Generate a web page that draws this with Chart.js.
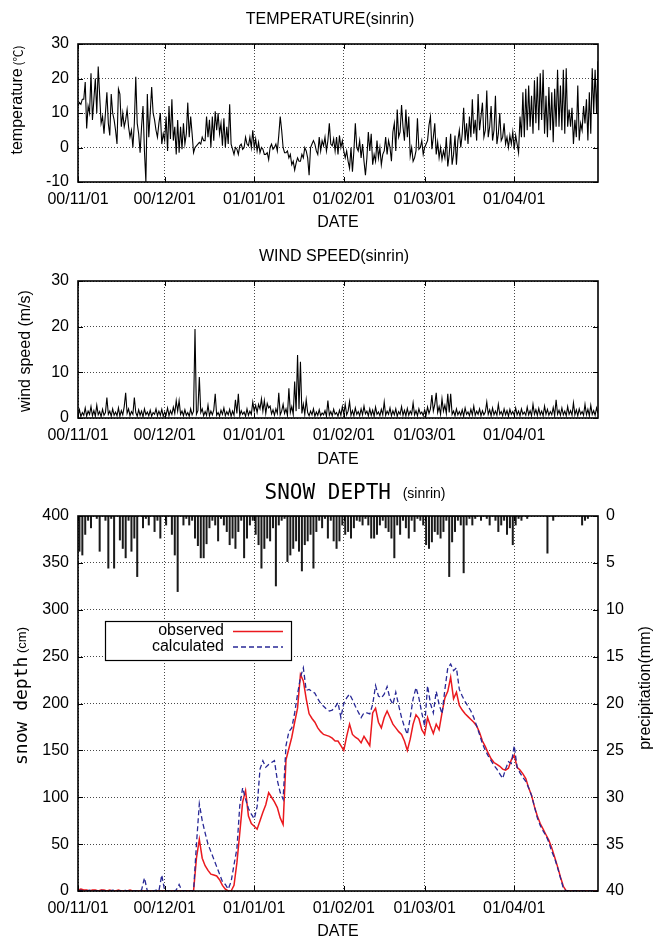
<!DOCTYPE html>
<html><head><meta charset="utf-8">
<script src="https://cdn.jsdelivr.net/npm/chart.js@4.4.1/dist/chart.umd.min.js"></script>
<style>
html,body{margin:0;padding:0;background:#fff;overflow:hidden;width:663px;height:937px;}
.box{position:absolute;left:0;width:663px;}
</style></head><body>
<div class="box" style="top:0;height:240px"><canvas id="c1"></canvas></div>
<div class="box" style="top:240px;height:236px"><canvas id="c2"></canvas></div>
<div class="box" style="top:476px;height:473px"><canvas id="c3"></canvas></div>
<script>
// ---- categories / tick labels (day offsets from 2000-11-01) ----
const monthDays = [0, 30, 61, 92, 120, 151];
const monthLabels = ['00/11/01', '00/12/01', '01/01/01', '01/02/01', '01/03/01', '01/04/01'];
const tempTicks = [-10, 0, 10, 20, 30];
const windTicks = [0, 10, 20, 30];
const snowTicks = [0, 50, 100, 150, 200, 250, 300, 350, 400];
const precipTicks = [0, 5, 10, 15, 20, 25, 30, 35, 40];

// ---- temperature, every 12 h (deg C) ----
const temperature = [
 12,13,12.5,14,14,19,5.5,12,10,21.5,
 8,14,20,10,23.5,15,7,9,4,10,
 16,7,3.5,15.5,10,8,5,1,17,15.5,
 6,10,6,8,11,6,3,5,0,7,
 20.5,7,4,-1.5,6,12,-1,-10,15.5,3,
 10,17.5,10,8,5,3,7,10,1,4,
 2,9,-1,12,2.5,14,2,6,-2,8,
 -1.5,6,-0.5,7,1,4,13,3,9,4,
 -1.5,0,0.5,1,1.5,1,3,2,2,9,
 3,8,0,9,2,10.5,5,10,4,7,
 0.5,8.5,0,6,1,12.5,1,-0.5,-2,0,
 -0.5,-2,0.5,1,-0.5,0,3,1,0.5,3,
 0,5,0,2.5,-1,1.5,-1.5,0,-0.5,-2,
 -2,-1.5,-3.5,0,1,-0.5,0,1,-1,3.5,
 9,5,0,-1.5,-1.5,-1,-3,-2,-5,-4,
 -6.5,-4.5,-3,-4,-4,-2,-3,0,-1,-3,
 -8,0,1,2,1,-1,-2,3,-1,2,
 0.5,3,-1,2,7,1,0.5,2.5,-1,3,
 -2,3.5,0,2,-1,-3,-1,-4,-6,0,
 -7,-1,7,0,-1,2,-3,1,-4,-8,
 -3,4.5,-1,4,-5,-2,-4,2,-3,0,
 -5,-2,-1,3,-2,2,0,-4,4.5,7,
 -1,11,3,4.5,12.3,6,2,11,3,9,
 -2.5,0,-4,-3,-1,8.5,-0.5,0,2,-2,
 0,1,2,6.5,9,-0.5,3,7,-2,1.5,
 -3,0,-3.5,-1,-3,3,-5.5,-2,4,-5,
 -2,3.5,-5,2,5,0,4,11.5,2,7,
 1,9,3,14,4,8,2,15.5,5,9,
 13,3,5,16.5,3,6,12,2,5,15,
 1,4,10,2,3,7,1,3,0,3.5,
 1,4.5,-0.5,3.5,1,-1.5,9,3,16,3,
 17,5,18,6,15,4,19.5,7,20.5,5,
 21.5,8,22.5,4,15,3,17.5,5,16,1.5,
 17,6,22.5,6,18,5,22.5,4,23,6,
 11,6,11.5,1,8,3,18,2,7,5,
 12,7,14,2,16,4,23,10,22.5,10,
 25
];

// ---- wind speed, every 12 h (m/s) ----
const windSpeed = [
 0.5,1.8,0.3,1.2,0.6,2.2,0.4,1.5,0.8,2.5,
 0.5,1.6,0.4,2.8,0.7,1.4,0.3,1.9,0.6,1.2,
 4.5,0.8,1.5,0.4,2.0,0.6,1.3,0.5,2.2,0.4,
 1.6,0.7,2.5,5.5,1.0,2.0,0.5,1.4,0.8,4.5,
 1.2,0.4,1.8,0.6,1.5,0.3,2.0,0.7,1.3,0.5,
 1.7,0.4,1.2,0.8,2.0,0.5,1.5,0.6,1.9,0.4,
 1.3,0.7,2.2,0.5,1.6,0.8,2.4,1.0,3.8,1.5,
 3.8,0.8,1.5,0.5,1.8,0.6,1.2,0.4,2.0,0.7,
 1.5,19.5,0.8,1.6,9.0,1.2,2.0,0.5,1.4,0.6,
 2.8,0.5,1.5,0.7,1.8,5.3,0.6,1.2,0.4,1.7,
 0.8,2.2,0.5,1.4,0.7,1.9,0.4,1.5,0.6,4.0,
 1.0,5.3,0.5,1.6,0.8,1.3,0.4,2.0,0.6,1.5,
 0.8,3.5,1.5,2.8,1.2,3.0,2.0,4.2,1.5,3.8,
 1.0,3.2,2.2,2.6,0.9,1.8,0.6,2.0,1.0,5.5,
 0.7,1.5,3.0,1.0,2.0,0.6,6.5,1.2,2.5,0.8,
 8.0,1.5,13.8,2.0,12.3,1.0,3.0,0.8,4.0,1.2,
 0.5,1.5,0.7,2.0,0.4,1.3,0.6,1.8,0.5,1.1,
 0.7,1.6,0.4,3.8,0.6,1.4,0.5,1.9,0.8,1.2,
 0.4,1.7,0.6,2.5,0.8,3.0,0.7,1.5,3.6,0.6,
 1.6,0.5,2.2,0.8,1.4,0.5,2.0,0.7,2.6,0.9,
 1.5,0.5,2.0,0.6,1.7,0.4,2.4,0.8,1.3,0.5,
 1.9,0.7,3.5,0.6,1.5,0.8,2.2,0.5,1.6,0.7,
 2.0,0.4,1.4,0.8,2.5,0.6,1.7,0.5,2.1,0.6,
 1.5,0.8,3.3,0.7,1.6,0.5,2.0,0.9,1.3,0.5,
 1.8,0.7,2.4,1.0,2.0,5.0,1.5,3.0,5.5,1.2,
 2.5,0.8,4.2,1.5,2.8,1.0,5.3,1.2,5.3,0.8,
 1.5,0.5,2.0,0.7,1.4,0.6,1.8,0.4,2.2,0.8,
 1.3,0.5,1.9,0.7,2.6,0.6,1.5,0.8,2.0,0.5,
 1.6,0.7,1.3,3.5,0.8,1.8,0.5,2.2,0.7,1.5,
 0.6,3.0,0.8,1.4,0.5,2.0,0.7,1.6,0.4,1.9,
 0.8,1.4,0.6,2.2,0.7,1.5,0.5,2.0,0.8,1.3,
 0.6,2.4,0.7,1.6,0.5,3.0,0.8,1.8,0.6,2.1,
 0.7,1.5,0.5,2.6,0.8,1.9,0.6,1.4,0.7,2.3,
 0.5,4.0,0.8,1.7,0.6,2.2,0.7,1.5,0.5,2.5,
 0.8,1.6,0.6,3.3,0.7,1.8,0.5,2.0,0.8,1.4,
 0.6,3.0,0.7,1.9,0.5,2.8,0.8,1.6,0.6,2.2,
 1.0
];

// ---- snow depth, daily (cm) ----
const snowObserved = [
 1,2,1,1,0,1,1,0,1,1,
 0,1,0,0,1,0,0,0,1,0,
 0,0,0,0,0,0,0,0,0,0,
 0,0,0,0,0,0,0,0,0,0,
 0,35,55,35,27,22,18,17,16,12,
 6,2,0,0,6,30,62,95,107,80,
 72,69,66,75,84,92,105,100,95,89,
 78,71,140,152,164,180,195,231,224,205,
 189,184,180,174,170,167,166,165,163,160,
 160,155,150,165,178,167,164,162,158,165,
 160,155,190,195,180,174,185,192,185,178,
 174,170,167,160,150,162,178,188,184,172,
 167,185,176,168,178,172,190,206,213,228,
 205,212,198,193,189,186,183,180,176,169,
 160,154,147,141,137,135,133,130,129,131,
 140,145,132,129,125,120,110,102,90,80,
 72,66,60,54,46,36,26,15,5,0,
 0,0,0,0,0,0,0,0,0,0,0
];
const snowCalculated = [
 0,1,0,0,1,0,0,0,1,0,
 0,0,1,0,0,0,1,0,0,0,
 0,0,1,14,0,0,0,1,0,17,
 0,0,0,0,1,7,0,0,0,0,
 0,50,93,75,62,50,42,34,26,18,
 10,7,2,10,28,45,91,110,98,88,
 82,77,90,130,139,132,135,137,139,118,
 105,98,155,170,174,190,210,228,238,214,
 215,213,211,205,200,197,194,192,193,196,
 201,185,200,206,210,204,197,191,185,190,
 190,189,199,219,208,206,210,218,205,199,
 212,198,185,175,167,185,205,217,206,190,
 176,219,200,190,213,199,189,215,238,242,
 235,238,215,208,202,197,192,185,176,167,
 157,150,144,139,134,130,125,120,130,138,
 136,155,132,126,121,117,110,102,90,78,
 70,64,59,52,42,35,25,14,3,0,
 0,0,0,0,0,0,0,0,0,0,0
];
// ---- precipitation, daily (mm) ----
const precipitation = [
 3.8,4.2,2,0.5,1.3,0,0.3,3.8,0,0.5,
 5.6,0.3,5.6,0,2.6,3.5,4.5,0.5,3.8,2.4,
 6.5,0,1.3,0.3,1.0,0,1.7,0.5,2.4,0,
 1.0,0,2.0,4.2,8.1,0,1.0,0.3,1.0,0.5,
 2.4,3.2,4.5,4.5,3.0,1.3,0.5,1.0,2.7,0.3,
 1.0,1.7,3.1,2.4,3.5,1.7,0.5,4.5,2.4,1.0,
 0.5,2.0,3.1,5.6,3.5,2.4,2.7,1.3,7.5,1.0,
 0.5,0.3,4.9,4.2,3.5,2.7,3.8,5.9,3.1,2.7,
 2.0,5.6,1.7,0.5,1.3,0.3,2.4,0.5,2.7,3.5,
 2.7,1.0,2.0,1.7,2.4,1.3,0.5,0.6,1.0,0.3,
 1.0,2.4,2.4,2.0,1.0,0.5,1.3,1.7,2.4,4.5,
 1.0,2.0,0.5,1.3,2.4,0.5,1.7,0.3,0.5,1.0,
 3.1,3.5,2.8,1.7,2.0,2.4,1.7,0.5,6.5,2.8,
 1.7,0.5,1.0,6.1,1.0,0.3,1.0,0.3,0,0.5,
 0,0.3,1.0,0,0.5,1.7,1.0,0.5,2.0,1.3,
 3.1,1.0,0.3,0.5,0,0.3,0,0,0,0,
 0,0,4.0,0,0.5,0,0,0,0,0,
 0,0,0,0,1.0,0.5,0.3,0,0,0,0
];

const FONT = '"Liberation Sans", Arial, Helvetica, sans-serif';
const GRID = 'rgba(40,40,40,0.85)';
Chart.defaults.font.family = FONT;
Chart.defaults.color = '#000';

function pts(arr, step, off) { return arr.map((v, i) => ({ x: i * step + off, y: v })); }

const framePlugin = {
  id: 'frame',
  afterDatasetsDraw(chart) {
    const { ctx, chartArea: a, scales } = chart;
    ctx.save();
    ctx.strokeStyle = '#000';
    ctx.lineWidth = 1;
    const tl = 5;
    const seg = (x1, y1, x2, y2) => { ctx.beginPath(); ctx.moveTo(x1, y1); ctx.lineTo(x2, y2); ctx.stroke(); };
    scales.x.ticks.forEach(t => {
      const px = Math.round(scales.x.getPixelForValue(t.value)) + 0.5;
      seg(px, a.bottom, px, a.bottom - tl); seg(px, a.top, px, a.top + tl);
    });
    scales.y.ticks.forEach(t => {
      const py = Math.round(scales.y.getPixelForValue(t.value)) + 0.5;
      seg(a.left, py, a.left + tl, py); seg(a.right, py, a.right - tl, py);
    });
    ctx.lineWidth = 1.6;
    ctx.strokeRect(a.left, a.top, a.right - a.left, a.bottom - a.top);
    ctx.restore();
  }
};

const sideTitlePlugin = {
  id: 'sideTitles',
  afterDraw(chart, args, opts) {
    const ctx = chart.ctx;
    (opts.items || []).forEach(it => {
      ctx.save();
      ctx.translate(it.x, it.y);
      ctx.rotate(it.rot === undefined ? -Math.PI / 2 : it.rot);
      ctx.fillStyle = '#000';
      ctx.textBaseline = 'middle';
      ctx.textAlign = 'left';
      let total = 0;
      const ws = it.parts.map(p => { ctx.font = p.f; const w = ctx.measureText(p.t).width; total += w; return w; });
      let x = -total / 2;
      it.parts.forEach((p, i) => { ctx.font = p.f; ctx.fillText(p.t, x, p.dy || 0); x += ws[i]; });
      ctx.restore();
    });
  }
};

const boxLegendPlugin = {
  id: 'boxLegend',
  afterDraw(chart, args, o) {
    if (!o || !o.display) return;
    const { ctx, chartArea: a } = chart;
    const x0 = a.left + o.dx, y0 = a.top + o.dy;
    ctx.save();
    ctx.fillStyle = '#fff';
    ctx.fillRect(x0, y0, o.w, o.h);
    ctx.strokeStyle = '#000';
    ctx.lineWidth = 1.2;
    ctx.strokeRect(x0 + 0.5, y0 + 0.5, o.w, o.h);
    ctx.font = '16px ' + FONT;
    ctx.textAlign = 'right';
    ctx.textBaseline = 'middle';
    o.entries.forEach((e, k) => {
      const ds = chart.data.datasets[e];
      const yy = y0 + 10 + k * 15.5;
      ctx.fillStyle = '#000';
      ctx.fillText(ds.label, x0 + o.textRight, yy);
      ctx.strokeStyle = ds.borderColor;
      ctx.lineWidth = 1.4;
      ctx.setLineDash(ds.borderDash || []);
      ctx.beginPath(); ctx.moveTo(x0 + o.lineStart, yy + 0.5); ctx.lineTo(x0 + o.lineEnd, yy + 0.5); ctx.stroke();
      ctx.setLineDash([]);
    });
    ctx.restore();
  }
};

function xScale(titlePad) {
  return {
    type: 'linear', min: 0, max: 180, offset: false,
    afterBuildTicks: s => { s.ticks = monthDays.map(v => ({ value: v })); },
    afterFit: s => { s.height = 58; },
    ticks: { autoSkip: false, maxRotation: 0, padding: 8, font: { size: 16 },
      callback: v => monthLabels[monthDays.indexOf(v)] },
    grid: { color: GRID, lineWidth: 1, drawTicks: false, offset: false },
    border: { display: false, dash: [1, 2] },
    title: { display: true, text: 'DATE', font: { size: 16 }, color: '#000', padding: { top: 0, bottom: titlePad } }
  };
}
function yScale(tickList, width) {
  return {
    type: 'linear', min: tickList[0], max: tickList[tickList.length - 1],
    afterBuildTicks: s => { s.ticks = tickList.map(v => ({ value: v })); },
    afterFit: s => { s.width = width; },
    ticks: { padding: 9, font: { size: 16 } },
    grid: { color: GRID, lineWidth: 1, drawTicks: false },
    border: { display: false, dash: [1, 2] }
  };
}
const baseOpts = { responsive: true, maintainAspectRatio: false, animation: false, events: [] };

// ---- Temperature ----
new Chart(document.getElementById('c1'), {
  type: 'line',
  data: { datasets: [{ label: 'temperature', data: pts(temperature, 0.5, 0), borderColor: '#000', borderWidth: 1.1, pointRadius: 0, tension: 0 }] },
  options: Object.assign({}, baseOpts, {
    layout: { padding: { left: 0, right: 65, top: 44, bottom: 0 } },
    plugins: {
      legend: { display: false }, tooltip: { enabled: false },
      sideTitles: { items: [
        { x: 330, y: 20, rot: 0, parts: [{ t: 'TEMPERATURE(sinrin)', f: '16px ' + FONT }] },
        { x: 18, y: 100, parts: [{ t: 'temperature', f: '16px ' + FONT }, { t: ' (℃)', f: '12px "Noto Sans CJK JP"' }] }
      ] }
    },
    scales: { x: xScale(7.5), y: yScale(tempTicks, 78) }
  }),
  plugins: [framePlugin, sideTitlePlugin]
});

// ---- Wind speed ----
new Chart(document.getElementById('c2'), {
  type: 'line',
  data: { datasets: [{ label: 'wind speed', data: pts(windSpeed, 0.5, 0), borderColor: '#000', borderWidth: 1.1, pointRadius: 0, tension: 0 }] },
  options: Object.assign({}, baseOpts, {
    layout: { padding: { left: 0, right: 65, top: 41, bottom: 0 } },
    plugins: {
      legend: { display: false }, tooltip: { enabled: false },
      sideTitles: { items: [
        { x: 334, y: 17, rot: 0, parts: [{ t: 'WIND SPEED(sinrin)', f: '16px ' + FONT }] },
        { x: 26, y: 111, parts: [{ t: 'wind speed (m/s)', f: '16px ' + FONT }] }
      ] }
    },
    scales: { x: xScale(6.5), y: yScale(windTicks, 78) }
  }),
  plugins: [framePlugin, sideTitlePlugin]
});

// ---- Snow depth + precipitation ----
new Chart(document.getElementById('c3'), {
  type: 'line',
  data: { datasets: [
    { label: 'calculated', data: pts(snowCalculated, 1, 0), yAxisID: 'y', borderColor: 'rgb(40,40,150)', borderDash: [5, 3], borderWidth: 1.3, pointRadius: 0, tension: 0, order: 0 },
    { label: 'observed', data: pts(snowObserved, 1, 0), yAxisID: 'y', borderColor: 'rgb(235,25,30)', borderWidth: 1.5, pointRadius: 0, tension: 0, order: 1 },
    { type: 'bar', label: 'precipitation', data: pts(precipitation, 1, 0.5), yAxisID: 'y2', backgroundColor: '#1a1a1a', borderWidth: 0, barPercentage: 1, categoryPercentage: 0.7, order: 2 }
  ] },
  options: Object.assign({}, baseOpts, {
    layout: { padding: { left: 0, right: 0, top: 40, bottom: 0 } },
    plugins: {
      legend: { display: false }, tooltip: { enabled: false },
      boxLegend: { display: true, dx: 27, dy: 105, w: 186, h: 39, textRight: 119, lineStart: 128, lineEnd: 178, entries: [1, 0] },
      sideTitles: { items: [
        { x: 355, y: 18, rot: 0, parts: [{ t: 'SNOW DEPTH', f: '21px "DejaVu Sans Mono"' }, { t: '   (sinrin)', f: '14px ' + FONT }] },
        { x: 22, y: 220, parts: [{ t: 'snow depth', f: '18px "DejaVu Sans Mono"' }, { t: ' (cm)', f: '13px ' + FONT }] },
        { x: 646, y: 212, parts: [{ t: 'precipitation(mm)', f: '16px ' + FONT }] }
      ] }
    },
    scales: {
      x: xScale(7.5),
      y: yScale(snowTicks, 78),
      y2: { type: 'linear', position: 'right', min: 0, max: 40, reverse: true,
        afterBuildTicks: s => { s.ticks = precipTicks.map(v => ({ value: v })); },
        afterFit: s => { s.width = 65; },
        ticks: { padding: 8, font: { size: 16 } },
        grid: { display: false, drawTicks: false }, border: { display: false } }
    }
  }),
  plugins: [framePlugin, sideTitlePlugin, boxLegendPlugin]
});
</script>
</body></html>
